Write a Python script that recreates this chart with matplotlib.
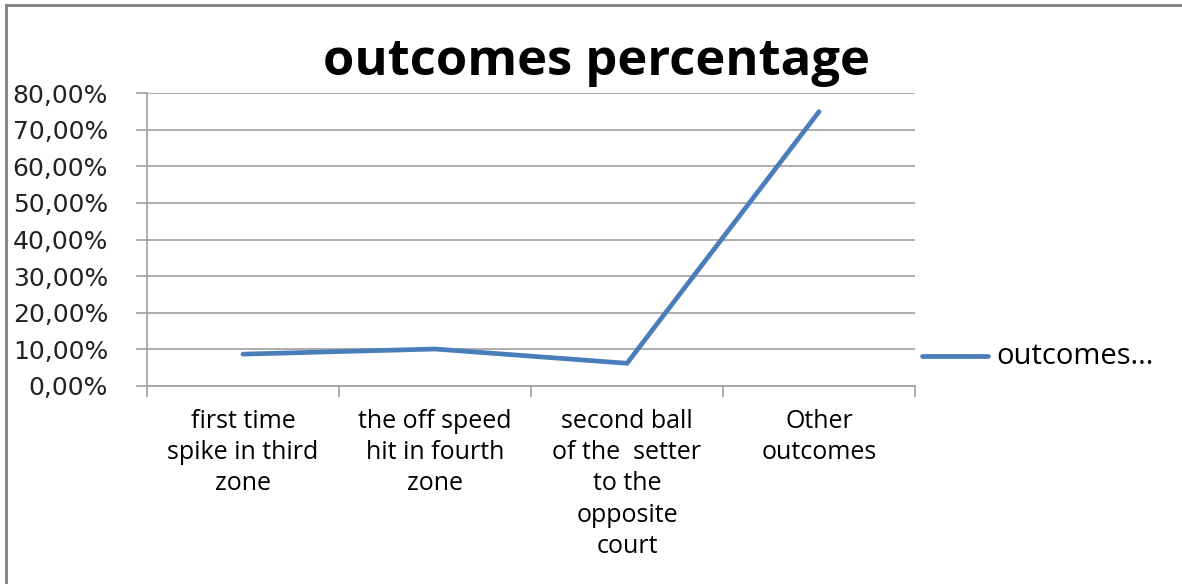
import matplotlib
matplotlib.use("Agg")
import matplotlib.pyplot as plt
from matplotlib.ticker import FixedLocator, FuncFormatter
from matplotlib.lines import Line2D

categories = ["first time\nspike in third\nzone",
              "the off speed\nhit in fourth\nzone",
              "second ball\nof the  setter\nto the\nopposite\ncourt",
              "Other\noutcomes"]
values = [8.7, 10.1, 6.2, 74.9]
yticks = [0, 10, 20, 30, 40, 50, 60, 70, 80]
series_name = "outcomes..."

W, H = 1182, 584
fig = plt.figure(figsize=(W/100, H/100), dpi=100)
ax = fig.add_axes([147/W, 1-386/H, (915-147)/W, (386-93)/H])

grid_c = "#A0A0A0"
x = list(range(len(categories)))
ax.plot(x, values, color="#4A7EBB", lw=3.4, solid_capstyle="round", solid_joinstyle="miter")

ax.set_xlim(-0.5, len(categories)-0.5)
ax.set_ylim(0, 80)
ax.set_yticks(yticks)
ax.yaxis.set_major_formatter(FuncFormatter(lambda v, p: f"{v:.2f}%".replace(".", ",")))
ax.yaxis.grid(True, color=grid_c, lw=1.2)
ax.set_axisbelow(True)

ax.set_xticks(x)
ax.set_xticklabels(categories, fontsize=18, family="Open Sans", linespacing=1.33, va="top")
ax.xaxis.set_minor_locator(FixedLocator([i-0.5 for i in range(len(categories)+1)]))
ax.tick_params(axis="x", which="major", length=0, pad=16.5)
ax.tick_params(axis="x", which="minor", length=8, color=grid_c, width=1.2)
ax.tick_params(axis="y", length=8, color=grid_c, width=1.2, pad=20, labelsize=18)
for lab in ax.get_yticklabels():
    lab.set_family("DejaVu Sans")
    lab.set_color("#222222")

for s in ["top", "right"]:
    ax.spines[s].set_visible(False)
for s in ["left", "bottom"]:
    ax.spines[s].set_color(grid_c)
    ax.spines[s].set_linewidth(1.2)

fig.text(596/W, 1-62/H, "outcomes percentage", ha="center", va="center",
         fontsize=36.5, fontweight="bold", family="Open Sans")

# legend
fig.add_artist(Line2D([922/W, 988/W], [1-356/H, 1-356/H], color="#4A7EBB", lw=3.4,
                      solid_capstyle="round", transform=fig.transFigure))
fig.text(996/W, 1-356/H, series_name, ha="left", va="center", fontsize=21, family="Open Sans")

# outer frame (top & left)
fig.add_artist(Line2D([6/W, 6/W], [0, 1-5/H], color="#808080", lw=2, transform=fig.transFigure))
fig.add_artist(Line2D([6/W, 1], [1-5/H, 1-5/H], color="#808080", lw=2, transform=fig.transFigure))

fig.savefig("out.png", dpi=100, facecolor="white")
